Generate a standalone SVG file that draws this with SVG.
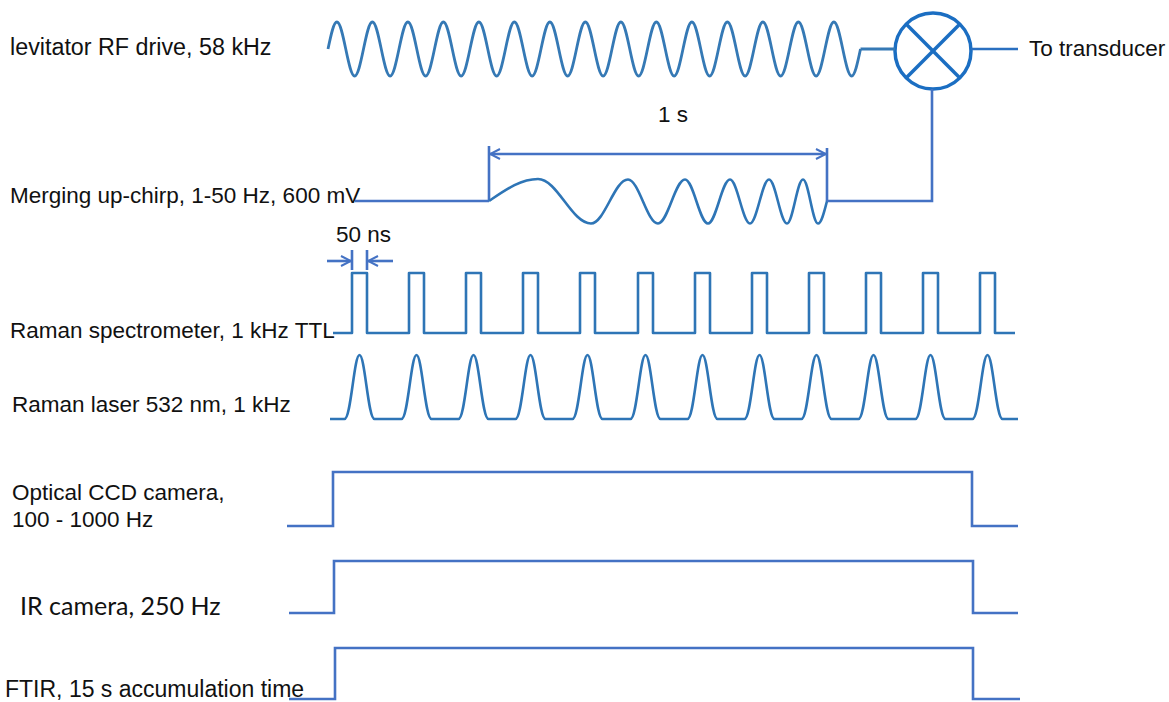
<svg xmlns="http://www.w3.org/2000/svg" width="1169" height="702" viewBox="0 0 1169 702">
<style>
  .lbl { font-family: "Liberation Sans", Arial, sans-serif; font-size: 22.5px; fill: #111; }
  .cal { font-family: Lato, "Open Sans", sans-serif; font-size: 25px; fill: #111; }
  .wave { fill: none; stroke: #2e75b6; stroke-width: 2.6; stroke-linejoin: round; }
  .rf { fill: none; stroke: #3579b5; stroke-width: 2.8; }
  .trace { fill: none; stroke: #4472c4; stroke-width: 2.6; }
  .mix { fill: none; stroke: #1b6ec2; stroke-width: 3.5; }
  .mixline { fill: none; stroke: #2a6fc0; stroke-width: 2.6; }
</style>
<defs>
  <marker id="chev" viewBox="0 0 12 12" refX="11" refY="6" markerWidth="12" markerHeight="12" markerUnits="userSpaceOnUse" orient="auto-start-reverse">
    <path d="M1,1 L11,6 L1,11" fill="none" stroke="#4472c4" stroke-width="2"/>
  </marker>
</defs>
<rect width="1169" height="702" fill="#fff"/>

<g id="rf-drive">
  <text class="lbl" x="10" y="55" style="font-size:23.3px">levitator RF drive, 58 kHz</text>
  <path class="rf" d="M328,49
  c 2.96,-14.14 5.68,-27 8.875,-27 c 3.195,0 5.92,12.86 8.875,27 c 2.96,14.14 5.68,27 8.875,27 c 3.195,0 5.92,-12.86 8.875,-27
  c 2.96,-14.14 5.68,-27 8.875,-27 c 3.195,0 5.92,12.86 8.875,27 c 2.96,14.14 5.68,27 8.875,27 c 3.195,0 5.92,-12.86 8.875,-27
  c 2.96,-14.14 5.68,-27 8.875,-27 c 3.195,0 5.92,12.86 8.875,27 c 2.96,14.14 5.68,27 8.875,27 c 3.195,0 5.92,-12.86 8.875,-27
  c 2.96,-14.14 5.68,-27 8.875,-27 c 3.195,0 5.92,12.86 8.875,27 c 2.96,14.14 5.68,27 8.875,27 c 3.195,0 5.92,-12.86 8.875,-27
  c 2.96,-14.14 5.68,-27 8.875,-27 c 3.195,0 5.92,12.86 8.875,27 c 2.96,14.14 5.68,27 8.875,27 c 3.195,0 5.92,-12.86 8.875,-27
  c 2.96,-14.14 5.68,-27 8.875,-27 c 3.195,0 5.92,12.86 8.875,27 c 2.96,14.14 5.68,27 8.875,27 c 3.195,0 5.92,-12.86 8.875,-27
  c 2.96,-14.14 5.68,-27 8.875,-27 c 3.195,0 5.92,12.86 8.875,27 c 2.96,14.14 5.68,27 8.875,27 c 3.195,0 5.92,-12.86 8.875,-27
  c 2.96,-14.14 5.68,-27 8.875,-27 c 3.195,0 5.92,12.86 8.875,27 c 2.96,14.14 5.68,27 8.875,27 c 3.195,0 5.92,-12.86 8.875,-27
  c 2.96,-14.14 5.68,-27 8.875,-27 c 3.195,0 5.92,12.86 8.875,27 c 2.96,14.14 5.68,27 8.875,27 c 3.195,0 5.92,-12.86 8.875,-27
  c 2.96,-14.14 5.68,-27 8.875,-27 c 3.195,0 5.92,12.86 8.875,27 c 2.96,14.14 5.68,27 8.875,27 c 3.195,0 5.92,-12.86 8.875,-27
  c 2.96,-14.14 5.68,-27 8.875,-27 c 3.195,0 5.92,12.86 8.875,27 c 2.96,14.14 5.68,27 8.875,27 c 3.195,0 5.92,-12.86 8.875,-27
  c 2.96,-14.14 5.68,-27 8.875,-27 c 3.195,0 5.92,12.86 8.875,27 c 2.96,14.14 5.68,27 8.875,27 c 3.195,0 5.92,-12.86 8.875,-27
  c 2.96,-14.14 5.68,-27 8.875,-27 c 3.195,0 5.92,12.86 8.875,27 c 2.96,14.14 5.68,27 8.875,27 c 3.195,0 5.92,-12.86 8.875,-27
  c 2.96,-14.14 5.68,-27 8.875,-27 c 3.195,0 5.92,12.86 8.875,27 c 2.96,14.14 5.68,27 8.875,27 c 3.195,0 5.92,-12.86 8.875,-27
  c 2.96,-14.14 5.68,-27 8.875,-27 c 3.195,0 5.92,12.86 8.875,27 c 2.96,14.14 5.68,27 8.875,27 c 3.195,0 5.92,-12.86 8.875,-27"/>
</g>

<g id="mixer">
  <circle class="mix" cx="933" cy="51" r="38"/>
  <line class="mix" x1="906.1" y1="24.1" x2="959.9" y2="77.9"/>
  <line class="mix" x1="959.9" y1="24.1" x2="906.1" y2="77.9"/>
</g>

<g id="transducer">
  <text class="lbl" x="1029" y="56">To transducer</text>
</g>

<g id="chirp">
  <text class="lbl" x="10" y="203">Merging up-chirp, 1-50 Hz, 600 mV</text>
  <path class="trace" d="M355,201 H489 M489,146 V201 M827,148 V201"/>
  <path class="wave" d="M489,201 C505.3,190 520.4,179 538,179
  C557.3,179 571.7,223.5 591,223.5
  C604.5,223.5 614.5,179.5 628,179.5
  C638.9,179.5 647.1,223.5 658,223.5
  C667.8,223.5 675.2,179.5 685,179.5
  C693.4,179.5 699.6,223.5 708,223.5
  C716,223.5 722,179.5 730,179.5
  C737.3,179.5 742.7,223.5 750,223.5
  C756.9,223.5 762.1,179.5 769,179.5
  C775.6,179.5 780.4,223.5 787,223.5
  C792.8,223.5 797.2,179.5 803,179.5
  C808.5,179.5 812.5,223.5 818,223.5
  C821.2,223.5 824,213 827,201"/>
  <line class="trace" x1="490" y1="154" x2="826" y2="154" marker-start="url(#chev)" marker-end="url(#chev)"/>
  <text class="lbl" x="673" y="122" text-anchor="middle">1 s</text>
</g>

<g id="raman-spectrometer">
  <text class="lbl" x="10" y="338">Raman spectrometer, 1 kHz TTL</text>
  <path class="wave" d="M333,333 H352 V273 H367 V333 H409 V273 H424 V333 H466 V273 H481 V333 H523 V273 H538 V333 H580 V273 H595 V333 H638 V273 H653 V333 H695 V273 H710 V333 H752 V273 H767 V333 H809 V273 H824 V333 H866 V273 H881 V333 H923 V273 H938 V333 H980 V273 H995 V333 H1015"/>
  <text class="lbl" x="336" y="242">50 ns</text>
  <line class="trace" x1="327" y1="261" x2="351" y2="261" marker-end="url(#chev)"/>
  <line class="trace" x1="393" y1="261" x2="368" y2="261" marker-end="url(#chev)"/>
  <path class="trace" d="M352,250 V270 M367,250 V270"/>
</g>

<g id="raman-laser">
  <text class="lbl" x="12" y="412">Raman laser 532 nm, 1 kHz</text>
  <path class="wave" d="M330,419 H344.5 C351,419 354,355 359.5,355 C365,355 368,419 374.5,419
  H401.5 C408,419 411,355 416.5,355 C422,355 425,419 431.5,419
  H458.5 C465,419 468,355 473.5,355 C479,355 482,419 488.5,419
  H515.5 C522,419 525,355 530.5,355 C536,355 539,419 545.5,419
  H572.5 C579,419 582,355 587.5,355 C593,355 596,419 602.5,419
  H630.5 C637,419 640,355 645.5,355 C651,355 654,419 660.5,419
  H687.5 C694,419 697,355 702.5,355 C708,355 711,419 717.5,419
  H744.5 C751,419 754,355 759.5,355 C765,355 768,419 774.5,419
  H801.5 C808,419 811,355 816.5,355 C822,355 825,419 831.5,419
  H858.5 C865,419 868,355 873.5,355 C879,355 882,419 888.5,419
  H915.5 C922,419 925,355 930.5,355 C936,355 939,419 945.5,419
  H972.5 C979,419 982,355 987.5,355 C993,355 996,419 1002.5,419 H1018"/>
</g>

<g id="optical-ccd">
  <text class="lbl" x="12" y="500">Optical CCD camera,</text>
  <text class="lbl" x="12" y="527">100 - 1000 Hz</text>
  <path class="trace" d="M287,526 H333 V472 H972 V526 H1018"/>
</g>

<g id="ir-camera">
  <text class="cal" x="20" y="615">IR camera, 250 Hz</text>
  <path class="trace" d="M289,613 H334 V561 H973 V613 H1018"/>
</g>

<g id="ftir">
  <text class="lbl" x="5" y="697" style="font-size:23px">FTIR, 15 s accumulation time</text>
  <path class="trace" d="M289,699 H335 V648 H973 V699 H1020"/>
</g>

<g id="connectors">
  <path class="rf" d="M860.5,49 H895"/>
  <path class="mixline" d="M971,49 H1018"/>
  <path class="trace" d="M827,201 H932 V89"/>
</g>
</svg>
